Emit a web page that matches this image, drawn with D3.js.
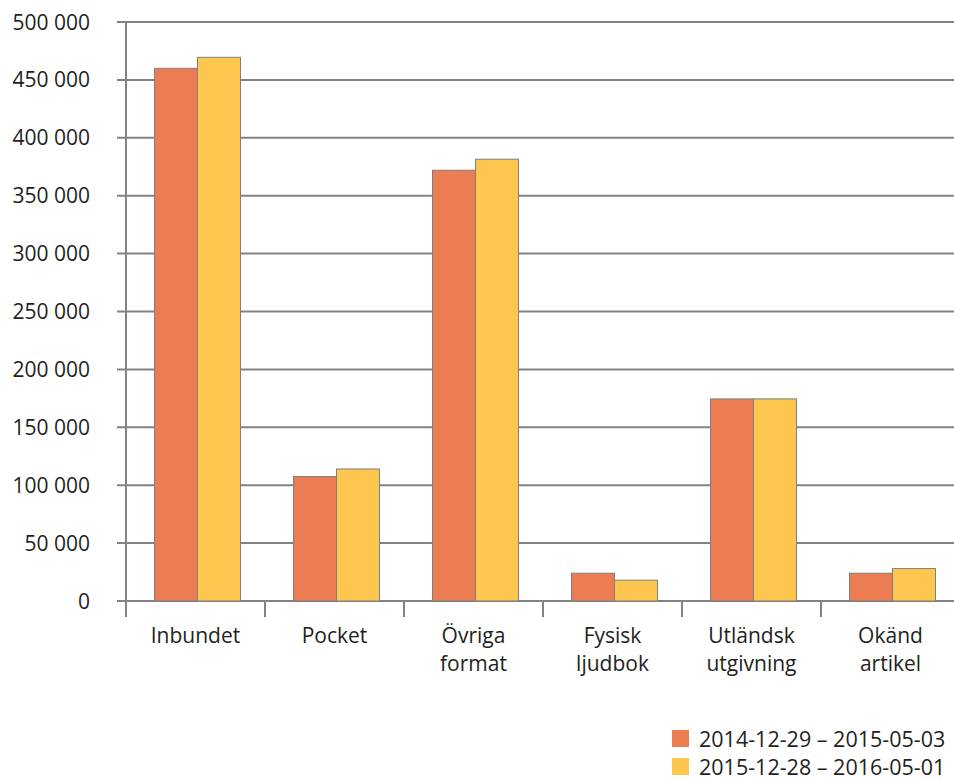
<!DOCTYPE html>
<html>
<head>
<meta charset="utf-8">
<script src="https://cdn.jsdelivr.net/npm/d3@7"></script>
<style>
  body { margin: 0; background: #fff; }
  text { font-family: "Open Sans", sans-serif; fill: #231f20; }
</style>
</head>
<body>
<svg id="chart" width="954" height="780"></svg>
<script>
// Categories (two-line labels split on \n)
const categories = ['Inbundet', 'Pocket', 'Övriga\nformat', 'Fysisk\nljudbok', 'Utländsk\nutgivning', 'Okänd\nartikel']
const series = ['2014-12-29 – 2015-05-03', '2015-12-28 – 2016-05-01']
const values2015 = [460000, 107500, 372000, 24000, 174500, 24000]
const values2016 = [469500, 114000, 381500, 18000, 174500, 28000]
const yTicks = [0, 50000, 100000, 150000, 200000, 250000, 300000, 350000, 400000, 450000, 500000]
const colors = ['#ec7d52', '#fdc64e']

const svg = d3.select('#chart')

const x0 = d3.scaleBand().domain(categories).range([126, 960])
const x1 = d3.scaleBand().domain(series).range([28.5, 114.5])
const y = d3.scaleLinear().domain([0, 500000]).range([601, 22])

const fmt = v => d3.format(',')(v).replace(/,/g, ' ')

// Gridlines with left tick marks
svg.append('g')
  .selectAll('line')
  .data(yTicks)
  .join('line')
  .attr('x1', 117)
  .attr('x2', 954)
  .attr('y1', d => y(d))
  .attr('y2', d => y(d))
  .attr('stroke', '#818285')
  .attr('stroke-width', 2)

// Y axis labels
svg.append('g')
  .selectAll('text')
  .data(yTicks)
  .join('text')
  .attr('x', 90)
  .attr('y', d => y(d))
  .attr('dy', '0.36em')
  .attr('text-anchor', 'end')
  .style('font-size', '21px')
  .text(fmt)

// Bars
const rows = categories.map((c, i) => ({ cat: c, vals: [values2015[i], values2016[i]] }))

svg.append('g')
  .selectAll('g')
  .data(rows)
  .join('g')
  .attr('transform', d => `translate(${x0(d.cat)},0)`)
  .selectAll('rect')
  .data(d => d.vals.map((v, j) => ({ key: series[j], value: v, color: colors[j] })))
  .join('rect')
  .attr('x', d => x1(d.key))
  .attr('y', d => y(d.value))
  .attr('width', x1.bandwidth())
  .attr('height', d => y(0) - y(d.value))
  .attr('fill', d => d.color)
  .attr('stroke', '#7f7f7f')
  .attr('stroke-width', 1)

// Y axis line and category ticks
svg.append('line')
  .attr('x1', 126).attr('x2', 126)
  .attr('y1', y(500000)).attr('y2', 617)
  .attr('stroke', '#818285').attr('stroke-width', 2)

svg.append('g')
  .selectAll('line')
  .data(categories.slice(1))
  .join('line')
  .attr('x1', d => x0(d)).attr('x2', d => x0(d))
  .attr('y1', y(0)).attr('y2', 617)
  .attr('stroke', '#818285').attr('stroke-width', 2)

// Category labels
svg.append('g')
  .selectAll('text')
  .data(categories)
  .join('text')
  .attr('x', d => x0(d) + x0.bandwidth() / 2)
  .attr('y', 643)
  .attr('text-anchor', 'middle')
  .style('font-size', '21px')
  .selectAll('tspan')
  .data(d => d.split('\n'))
  .join('tspan')
  .attr('x', function () { return d3.select(this.parentNode).attr('x') })
  .attr('dy', (d, i) => i === 0 ? 0 : 28)
  .text(d => d)

// Legend
const legend = svg.append('g')
  .selectAll('g')
  .data(series)
  .join('g')
  .attr('transform', (d, i) => `translate(672,${730 + i * 28})`)

legend.append('rect')
  .attr('width', 17)
  .attr('height', 17)
  .attr('fill', (d, i) => colors[i])

legend.append('text')
  .attr('x', 27)
  .attr('y', 16.5)
  .style('font-size', '21.5px')
  .text(d => d)
</script>
</body>
</html>
